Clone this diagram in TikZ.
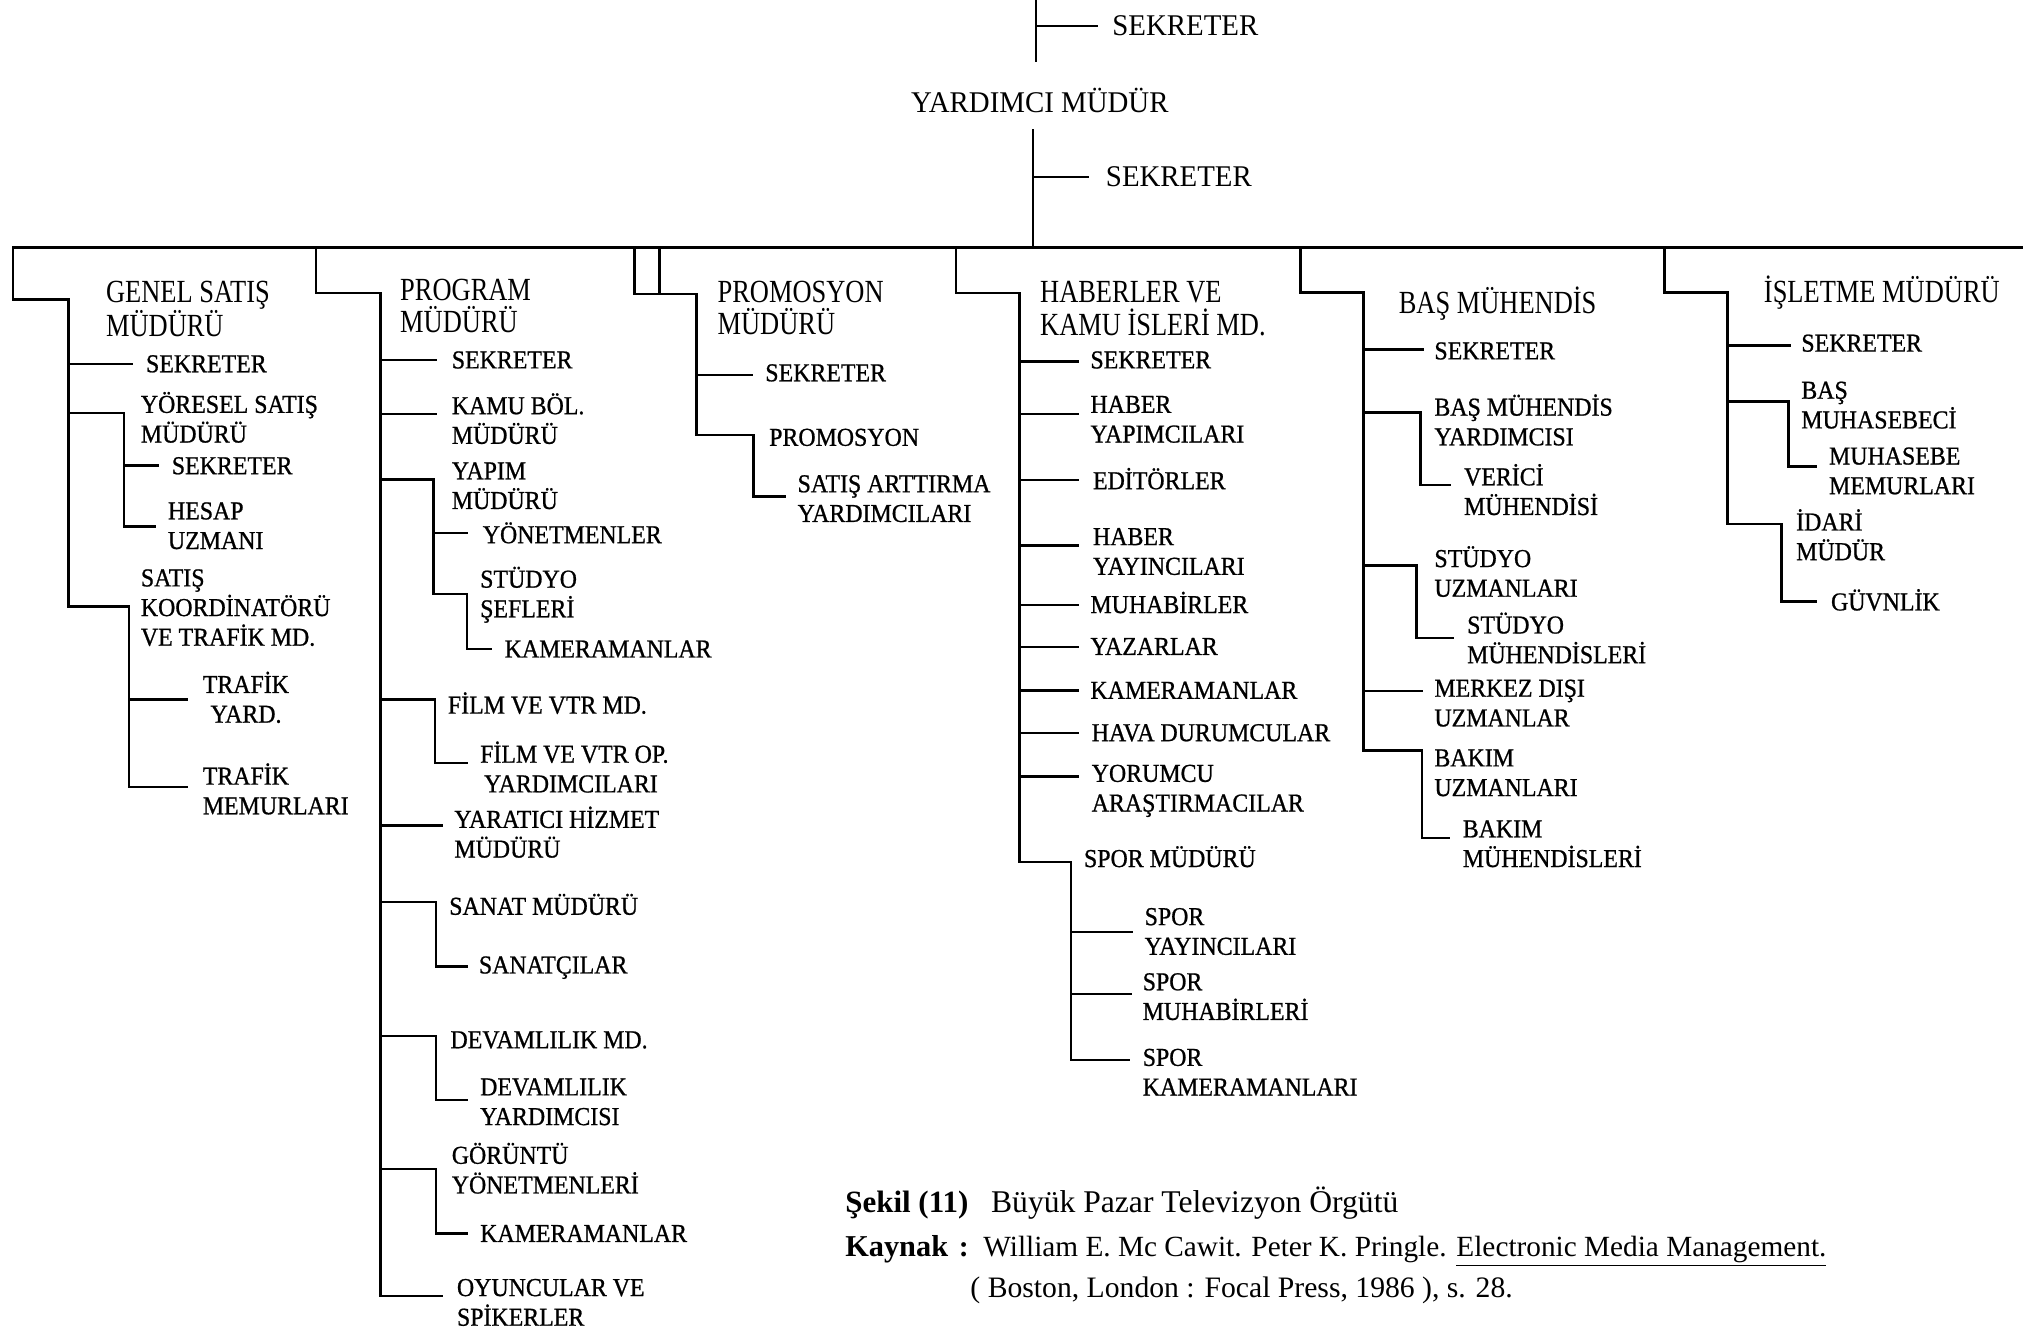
\documentclass[tikz,border=0pt]{standalone}
\usepackage{fontspec}
\setmainfont{Liberation Serif}
\newfontfamily\headfont[FakeStretch=0.82]{Liberation Serif}
\newfontfamily\itemfont[FakeStretch=0.925,FakeBold=0.8]{Liberation Serif}
\newfontfamily\topfont[FakeStretch=0.96]{Liberation Serif}
\usetikzlibrary{calc}
\tikzset{
  ln/.style={line width=2pt, line cap=rect},
  lnt/.style={line width=1.5pt},
  lnb/.style={line width=2.6pt},
  itm/.style={anchor=west, inner sep=0pt, align=left, font=\itemfont\fontsize{20}{23}\selectfont},
  head/.style={anchor=west, inner sep=0pt, align=left, font=\headfont\fontsize{25}{24.5}\selectfont},
  topf/.style={anchor=west, inner sep=0pt, font=\topfont\fontsize{23.3}{26}\selectfont},
  captxt/.style={anchor=base west, inner sep=0pt}
}
\newcommand\cnx[4]{\coordinate (#2e) at ($(#2.west)+(-#3,#4)$); \draw[ln] (#1) |- (#2e);}
\begin{document}
\begin{tikzpicture}[x=1pt,y=-1pt]
\fill[white] (0,0) rectangle (1568,1029);
\useasboundingbox (0,0) rectangle (1568,1029);

% top part
\coordinate (t0) at (803,0);
\coordinate (t1) at (803,48);
\draw[lnt] (t0) -- (t1);
\node[topf] (sek0) at (862,20) {SEKRETER};
\draw[lnt] (t0) |- ($(sek0.west)+(-11,0)$);
\node[topf, anchor=center] (ym) at (806,78) {YARDIMCI MÜDÜR};
\coordinate (m0) at (801,100);
\coordinate (busM) at (801,192);
\draw[lnt] (m0) -- (busM);
\node[topf] (sek1) at (857,137) {SEKRETER};
\draw[lnt] (m0) |- ($(sek1.west)+(-13,0)$);

% bus
\coordinate (busL) at (10,192);
\coordinate (busR) at (1568,192);
\draw[lnb] (busL) -- (busR);

% GENEL SATIS
\coordinate (gT) at (53,232);
\draw[ln] (busL) |- (gT);
\node[head] (gh) at (82,239.5) {GENEL SATIŞ\\MÜDÜRÜ};
\node[itm] (gsek) at (113,282) {SEKRETER}; \cnx{gT}{gsek}{11}{0}
\node[itm] (gys) at (109,323.5) {YÖRESEL SATIŞ\\MÜDÜRÜ}; \cnx{gT}{gys}{13}{-3.5}
\node[itm] (gys1) at (133,361) {SEKRETER}; \cnx{gyse}{gys1}{11}{0}
\node[itm] (gys2) at (130,407.5) {HESAP\\UZMANI}; \cnx{gyse}{gys2}{10}{0.5}
\node[itm] (gsk) at (109,471) {SATIŞ\\KOORDİNATÖRÜ\\VE TRAFİK MD.}; \cnx{gT}{gsk}{9}{-1}
\node[itm] (gsk1) at (157,540.5) {TRAFİK\\\hspace*{6pt}YARD.}; \cnx{gske}{gsk1}{12}{1.5}
\node[itm] (gsk2) at (157,611.5) {TRAFİK\\MEMURLARI}; \cnx{gske}{gsk2}{12}{-1.5}

% PROGRAM
\coordinate (pB) at (245,192);
\coordinate (pT) at (295,227);
\draw[ln] (pB) |- (pT);
\node[head] (ph) at (310,237) {PROGRAM\\MÜDÜRÜ};
\node[itm] (psek) at (350,279) {SEKRETER}; \cnx{pT}{psek}{12}{0}
\node[itm] (pkb) at (350,324.5) {KAMU BÖL.\\MÜDÜRÜ}; \cnx{pT}{pkb}{12}{-3.5}
\node[itm] (pyp) at (350,376.5) {YAPIM\\MÜDÜRÜ}; \cnx{pT}{pyp}{14}{-5}
\node[itm] (pyp1) at (374,413) {YÖNETMENLER}; \cnx{pype}{pyp1}{12}{0}
\node[itm] (pyp2) at (372,461) {STÜDYO\\ŞEFLERİ}; \cnx{pype}{pyp2}{10}{-0.5}
\node[itm] (pyp3) at (391,503) {KAMERAMANLAR}; \cnx{pyp2e}{pyp3}{11}{0}
\node[itm] (pfm) at (347,545) {FİLM VE VTR MD.}; \cnx{pT}{pfm}{10}{-3}
\node[itm] (pfm1) at (372,594.5) {FİLM VE VTR OP.\\\hspace*{3pt}YARDIMCILARI}; \cnx{pfme}{pfm1}{10}{-3}
\node[itm] (pyh) at (352,645) {YARATICI HİZMET\\MÜDÜRÜ}; \cnx{pT}{pyh}{10}{-5}
\node[itm] (psn) at (348,701) {SANAT MÜDÜRÜ}; \cnx{pT}{psn}{10}{-2}
\node[itm] (psn1) at (371,750) {SANATÇILAR}; \cnx{psne}{psn1}{9}{-1}
\node[itm] (pdv) at (349,806) {DEVAMLILIK MD.}; \cnx{pT}{pdv}{11}{-3}
\node[itm] (pdv1) at (372,854) {DEVAMLILIK\\YARDIMCISI}; \cnx{pdve}{pdv1}{10}{-1.5}
\node[itm] (pgy) at (350,905.5) {GÖRÜNTÜ\\YÖNETMENLERİ}; \cnx{pT}{pgy}{12}{0.5}
\node[itm] (pgy1) at (372,956) {KAMERAMANLAR}; \cnx{pgye}{pgy1}{10}{0}
\node[itm] (poy) at (354,1009.5) {OYUNCULAR VE\\SPİKERLER}; \cnx{pT}{poy}{12}{-5}

% PROMOSYON
\coordinate (rB1) at (492,192);
\coordinate (rB2) at (511,192);
\coordinate (rT) at (540,228);
\draw[ln] (rB1) |- (rT);
\draw[ln] (rB2) -- (rB2 |- rT);
\node[head] (rh) at (556,238.5) {PROMOSYON\\MÜDÜRÜ};
\node[itm] (rsek) at (593,289) {SEKRETER}; \cnx{rT}{rsek}{10}{1.5}
\node[itm] (rpr) at (596,339) {PROMOSYON}; \cnx{rT}{rpr}{12}{-2}
\node[itm] (rpr1) at (618,386.5) {SATIŞ ARTTIRMA\\YARDIMCILARI}; \cnx{rpre}{rpr1}{10}{-1.5}

% HABERLER
\coordinate (hB) at (741,192);
\coordinate (hT) at (790,227);
\draw[ln] (hB) |- (hT);
\node[head, font=\headfont\fontsize{25}{26}\selectfont] (hh) at (806,239) {HABERLER VE\\KAMU İSLERİ MD.};
\node[itm] (hsek) at (845,279) {SEKRETER}; \cnx{hT}{hsek}{10}{1}
\node[itm] (hhy) at (845,325) {HABER\\YAPIMCILARI}; \cnx{hT}{hhy}{10}{-4}
\node[itm] (hed) at (847,371) {EDİTÖRLER}; \cnx{hT}{hed}{12}{1}
\node[itm] (hhyy) at (847,427.5) {HABER\\YAYINCILARI}; \cnx{hT}{hhyy}{12}{-4.5}
\node[itm] (hmu) at (845,467) {MUHABİRLER}; \cnx{hT}{hmu}{10}{2}
\node[itm] (hya) at (845,501) {YAZARLAR}; \cnx{hT}{hya}{10}{0.5}
\node[itm] (hka) at (845,535) {KAMERAMANLAR}; \cnx{hT}{hka}{10}{0}
\node[itm] (hha) at (846,568) {HAVA DURUMCULAR}; \cnx{hT}{hha}{11}{0}
\node[itm] (hyo) at (846,613) {YORUMCU\\ARAŞTIRMACILAR}; \cnx{hT}{hyo}{11}{-11}
\node[itm] (hsp) at (840,664) {SPOR MÜDÜRÜ}; \cnx{hT}{hsp}{10}{4}
\node[itm] (hsp1) at (887,722) {SPOR\\YAYINCILARI}; \cnx{hspe}{hsp1}{10}{0.5}
\node[itm] (hsp2) at (885.5,772.5) {SPOR\\MUHABİRLERİ}; \cnx{hspe}{hsp2}{9.5}{-2}
\node[itm] (hsp3) at (885.5,831) {SPOR\\KAMERAMANLARI}; \cnx{hspe}{hsp3}{11}{-9.5}

% BAS MUHENDIS
\coordinate (bB) at (1008,192);
\coordinate (bT) at (1057,226.5);
\draw[ln] (bB) |- (bT);
\node[head] (bh) at (1084,235) {BAŞ MÜHENDİS};
\node[itm] (bsek) at (1111.6,272) {SEKRETER}; \cnx{bT}{bsek}{9}{-1}
\node[itm] (bmy) at (1111.6,325.5) {BAŞ MÜHENDİS\\YARDIMCISI}; \cnx{bT}{bmy}{10.6}{-6}
\node[itm] (bmy1) at (1134.6,379.5) {VERİCİ\\MÜHENDİSİ}; \cnx{bmye}{bmy1}{10.6}{-3.5}
\node[itm] (bsu) at (1111.6,443) {STÜDYO\\UZMANLARI}; \cnx{bT}{bsu}{13.6}{-4.5}
\node[itm] (bsu1) at (1137,494.5) {STÜDYO\\MÜHENDİSLERİ}; \cnx{bsue}{bsu1}{11}{0}
\node[itm] (bmd) at (1111.6,545) {MERKEZ DIŞI\\UZMANLAR}; \cnx{bT}{bmd}{9.6}{-9.4}
\node[itm] (bbk) at (1111.6,599) {BAKIM\\UZMANLARI}; \cnx{bT}{bbk}{9.6}{-17.5}
\node[itm] (bbk1) at (1133.6,654) {BAKIM\\MÜHENDİSLERİ}; \cnx{bbke}{bbk1}{11}{-4.4}

% ISLETME
\coordinate (iB) at (1290,192);
\coordinate (iT) at (1339,226.5);
\draw[ln] (iB) |- (iT);
\node[head] (ih) at (1367,227) {İŞLETME MÜDÜRÜ};
\node[itm] (isek) at (1396,266) {SEKRETER}; \cnx{iT}{isek}{9}{2}
\node[itm] (ibm) at (1396,314) {BAŞ\\MUHASEBECİ}; \cnx{iT}{ibm}{10}{-3}
\node[itm] (ibm1) at (1417.5,365) {MUHASEBE\\MEMURLARI}; \cnx{ibme}{ibm1}{10.5}{-3.4}
\node[itm] (iid) at (1392,414.5) {İDARİ\\MÜDÜR}; \cnx{iT}{iid}{11}{-8.5}
\node[itm] (iid1) at (1419,465) {GÜVNLİK}; \cnx{iide}{iid1}{12}{1}

% caption
\node[captxt, font=\fontsize{24}{28}\selectfont\bfseries] (c1a) at (655,940) {Şekil (11)};
\node[captxt, font=\fontsize{24.5}{28}\selectfont] (c1b) at (768,940) {Büyük Pazar Televizyon Örgütü};
\node[captxt, font=\fontsize{23.5}{28}\selectfont\bfseries] (c2a) at (655,974) {Kaynak};
\node[captxt, font=\fontsize{23}{28}\selectfont\bfseries] (c2b) at (743,974) {:};
\node[captxt, font=\fontsize{22.7}{28}\selectfont] (c2c) at (762,974) {William E. Mc Cawit. Peter K. Pringle. \underline{Electronic Media Management.}};
\node[captxt, font=\fontsize{23}{28}\selectfont] (c3) at (752,1006) {( Boston, London : Focal Press, 1986 ), s. 28.};
\end{tikzpicture}
\end{document}
